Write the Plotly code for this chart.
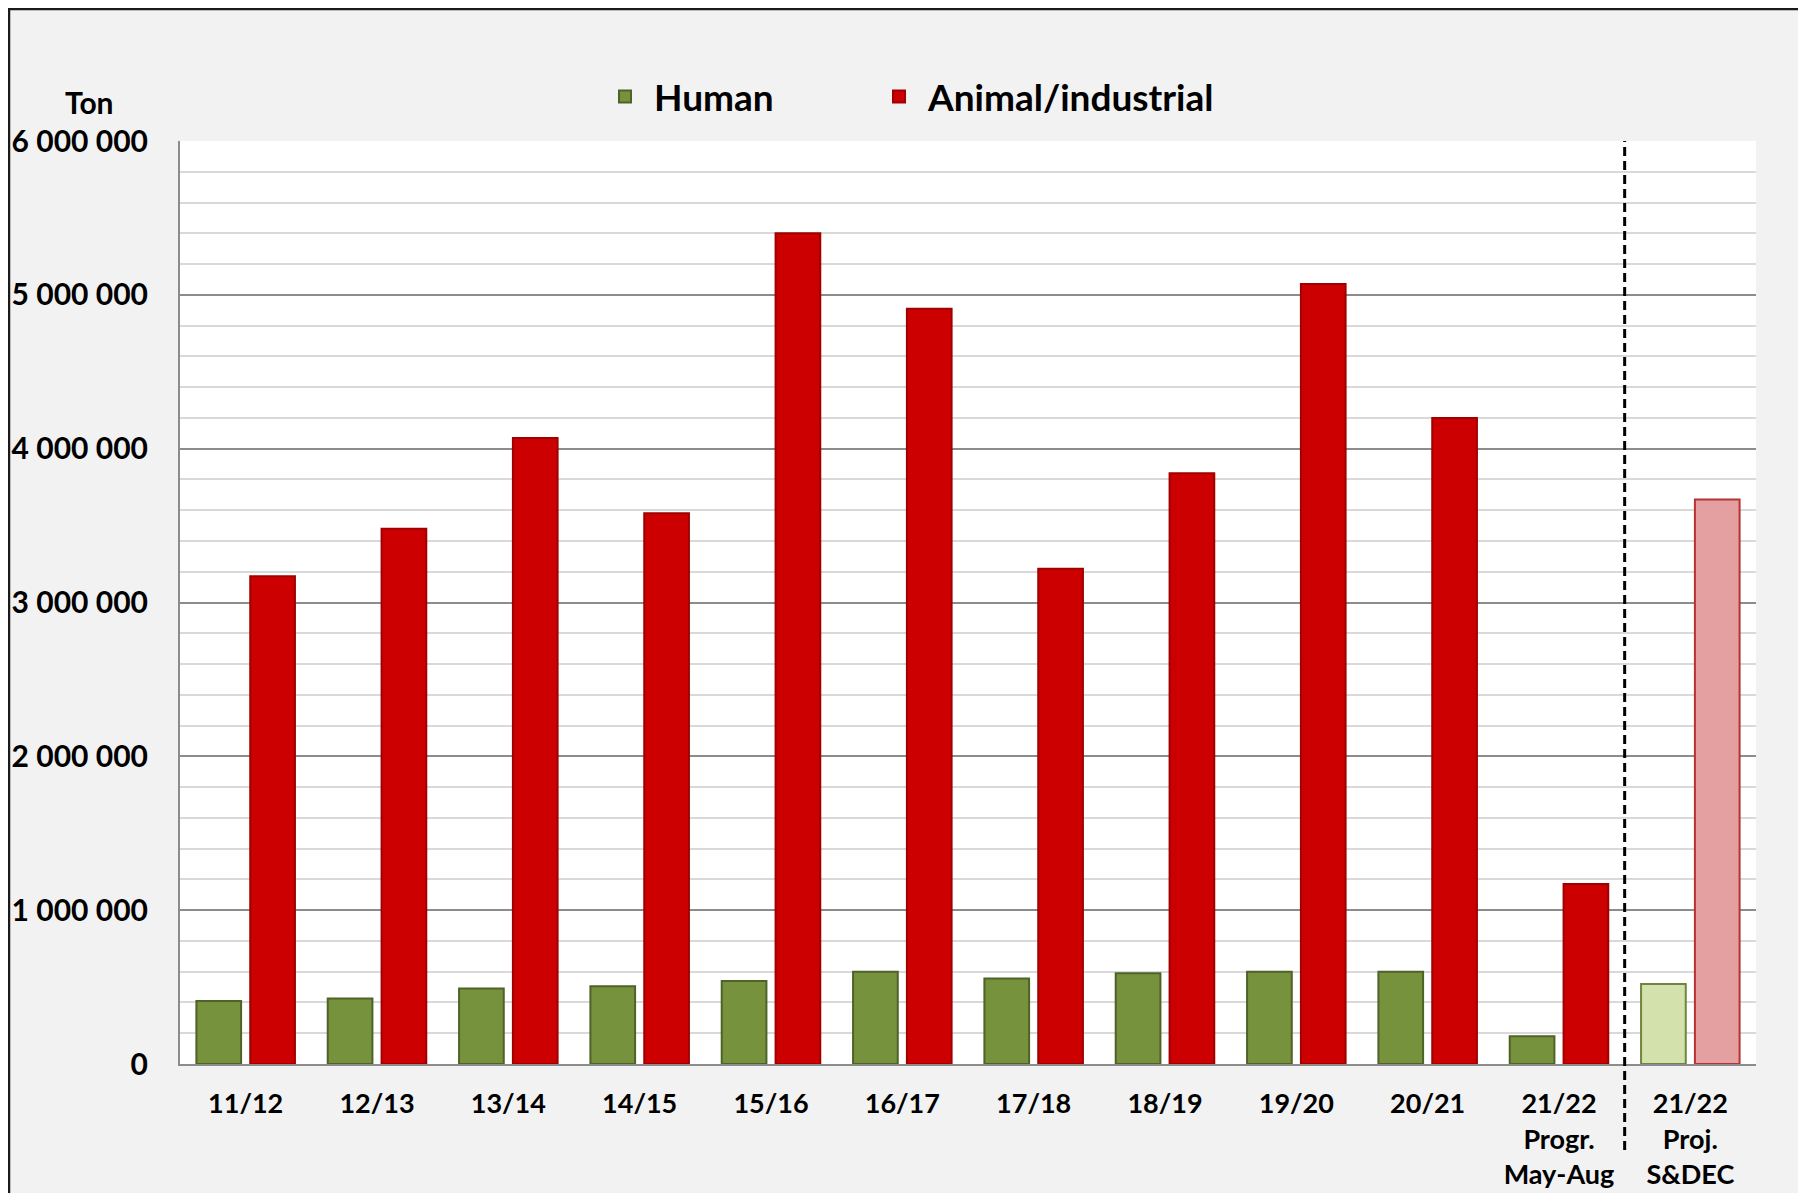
import plotly.graph_objects as go

categories = ["11/12", "12/13", "13/14", "14/15", "15/16", "16/17", "17/18",
              "18/19", "19/20", "20/21", "21/22<br>Progr.<br>May-Aug", "21/22<br>Proj.<br>S&DEC"]
human = [410000, 425000, 490000, 505000, 540000, 600000, 555000, 590000, 600000, 600000, 180000, 520000]
animal = [3170000, 3480000, 4070000, 3580000, 5400000, 4910000, 3220000, 3840000, 5070000, 4200000, 1170000, 3670000]
y_ticks = [0, 1000000, 2000000, 3000000, 4000000, 5000000, 6000000]
y_tick_labels = ["0", "1 000 000", "2 000 000", "3 000 000", "4 000 000", "5 000 000", "6 000 000"]

n = len(categories)
human_fill = ["#76923c"] * (n - 1) + ["#d3e2ad"]
human_line = ["#4f6228"] * (n - 1) + ["#71843f"]
animal_fill = ["#cc0000"] * (n - 1) + ["#e4a0a0"]
animal_line = ["#a00000"] * (n - 1) + ["#b83232"]

FONT = "Lato"

fig = go.Figure()
fig.add_trace(go.Bar(x=categories, y=human, name="Human",
                     marker=dict(color=human_fill, line=dict(color=human_line, width=2))))
fig.add_trace(go.Bar(x=categories, y=animal, name="Animal/industrial",
                     marker=dict(color=animal_fill, line=dict(color=animal_line, width=2))))
# invisible spacer legend entry so the last legend label is not clipped
fig.add_trace(go.Scatter(x=[None], y=[None], name=" ", mode="markers", hoverinfo="skip",
                         marker=dict(color="rgba(0,0,0,0)", size=1)))

# page offset (body margin) and figure size
OFF = 8
W, H = 1806, 1193
# plot area in screenshot pixels
PL, PR, PT, PB = 180, 1756, 141, 1064
L, R, T, B = PL - OFF, W - (PR - OFF), PT - OFF, H - (PB - OFF)
pw, ph = W - L - R, H - T - B

def px_x(x):  # screenshot px -> paper
    return (x - OFF - L) / pw

def px_y(y):
    return (H - B - (y - OFF)) / ph

shapes = [
    dict(type="line", xref="paper", yref="paper", x0=(n - 1) / n, x1=(n - 1) / n,
         y0=px_y(1150), y1=1, line=dict(color="black", width=3, dash="9px,5px")),
    dict(type="rect", xref="paper", yref="paper", x0=px_x(OFF + 1), x1=px_x(1840),
         y0=px_y(1240), y1=px_y(OFF + 1), line=dict(color="#1a1a1a", width=2.5), layer="below"),
]

fig.update_layout(
    width=W, height=H,
    margin=dict(l=L, r=R, t=T, b=B, autoexpand=False),
    paper_bgcolor="#f2f2f2",
    plot_bgcolor="white",
    font=dict(family=FONT, color="black", weight="bold"),
    barmode="group",
    bargap=0.18,
    bargroupgap=0.17,
    showlegend=True,
    legend=dict(orientation="h", x=px_x(596), y=px_y(97), xanchor="left", yanchor="middle",
                font=dict(size=37, family=FONT, weight="bold"), entrywidth=211,
                bgcolor="rgba(0,0,0,0)", itemwidth=48),
    shapes=shapes,
    annotations=[dict(text="Ton", xref="paper", yref="paper", x=px_x(89), y=px_y(102),
                      showarrow=False, font=dict(size=30, family=FONT, weight="bold"),
                      xanchor="center", yanchor="middle")],
)

fig.update_xaxes(
    type="category", automargin=False,
    showline=True, linecolor="#8c8c8c", linewidth=2,
    showgrid=False,
    tickfont=dict(size=27, family=FONT, weight="bold"),
    ticks="", ticklabelstandoff=15,
)
fig.update_yaxes(
    range=[0, 6000000], automargin=False,
    tickvals=y_ticks, ticktext=y_tick_labels,
    showline=True, linecolor="#8c8c8c", linewidth=2,
    showgrid=True, gridcolor="#8c8c8c", gridwidth=1.5,
    minor=dict(dtick=200000, showgrid=True, gridcolor="#d9d9d9", gridwidth=1.5),
    tickfont=dict(size=30, family=FONT, weight="bold"),
    ticks="", ticklabelstandoff=24,
    zeroline=False,
)

fig.write_html("out.html")
